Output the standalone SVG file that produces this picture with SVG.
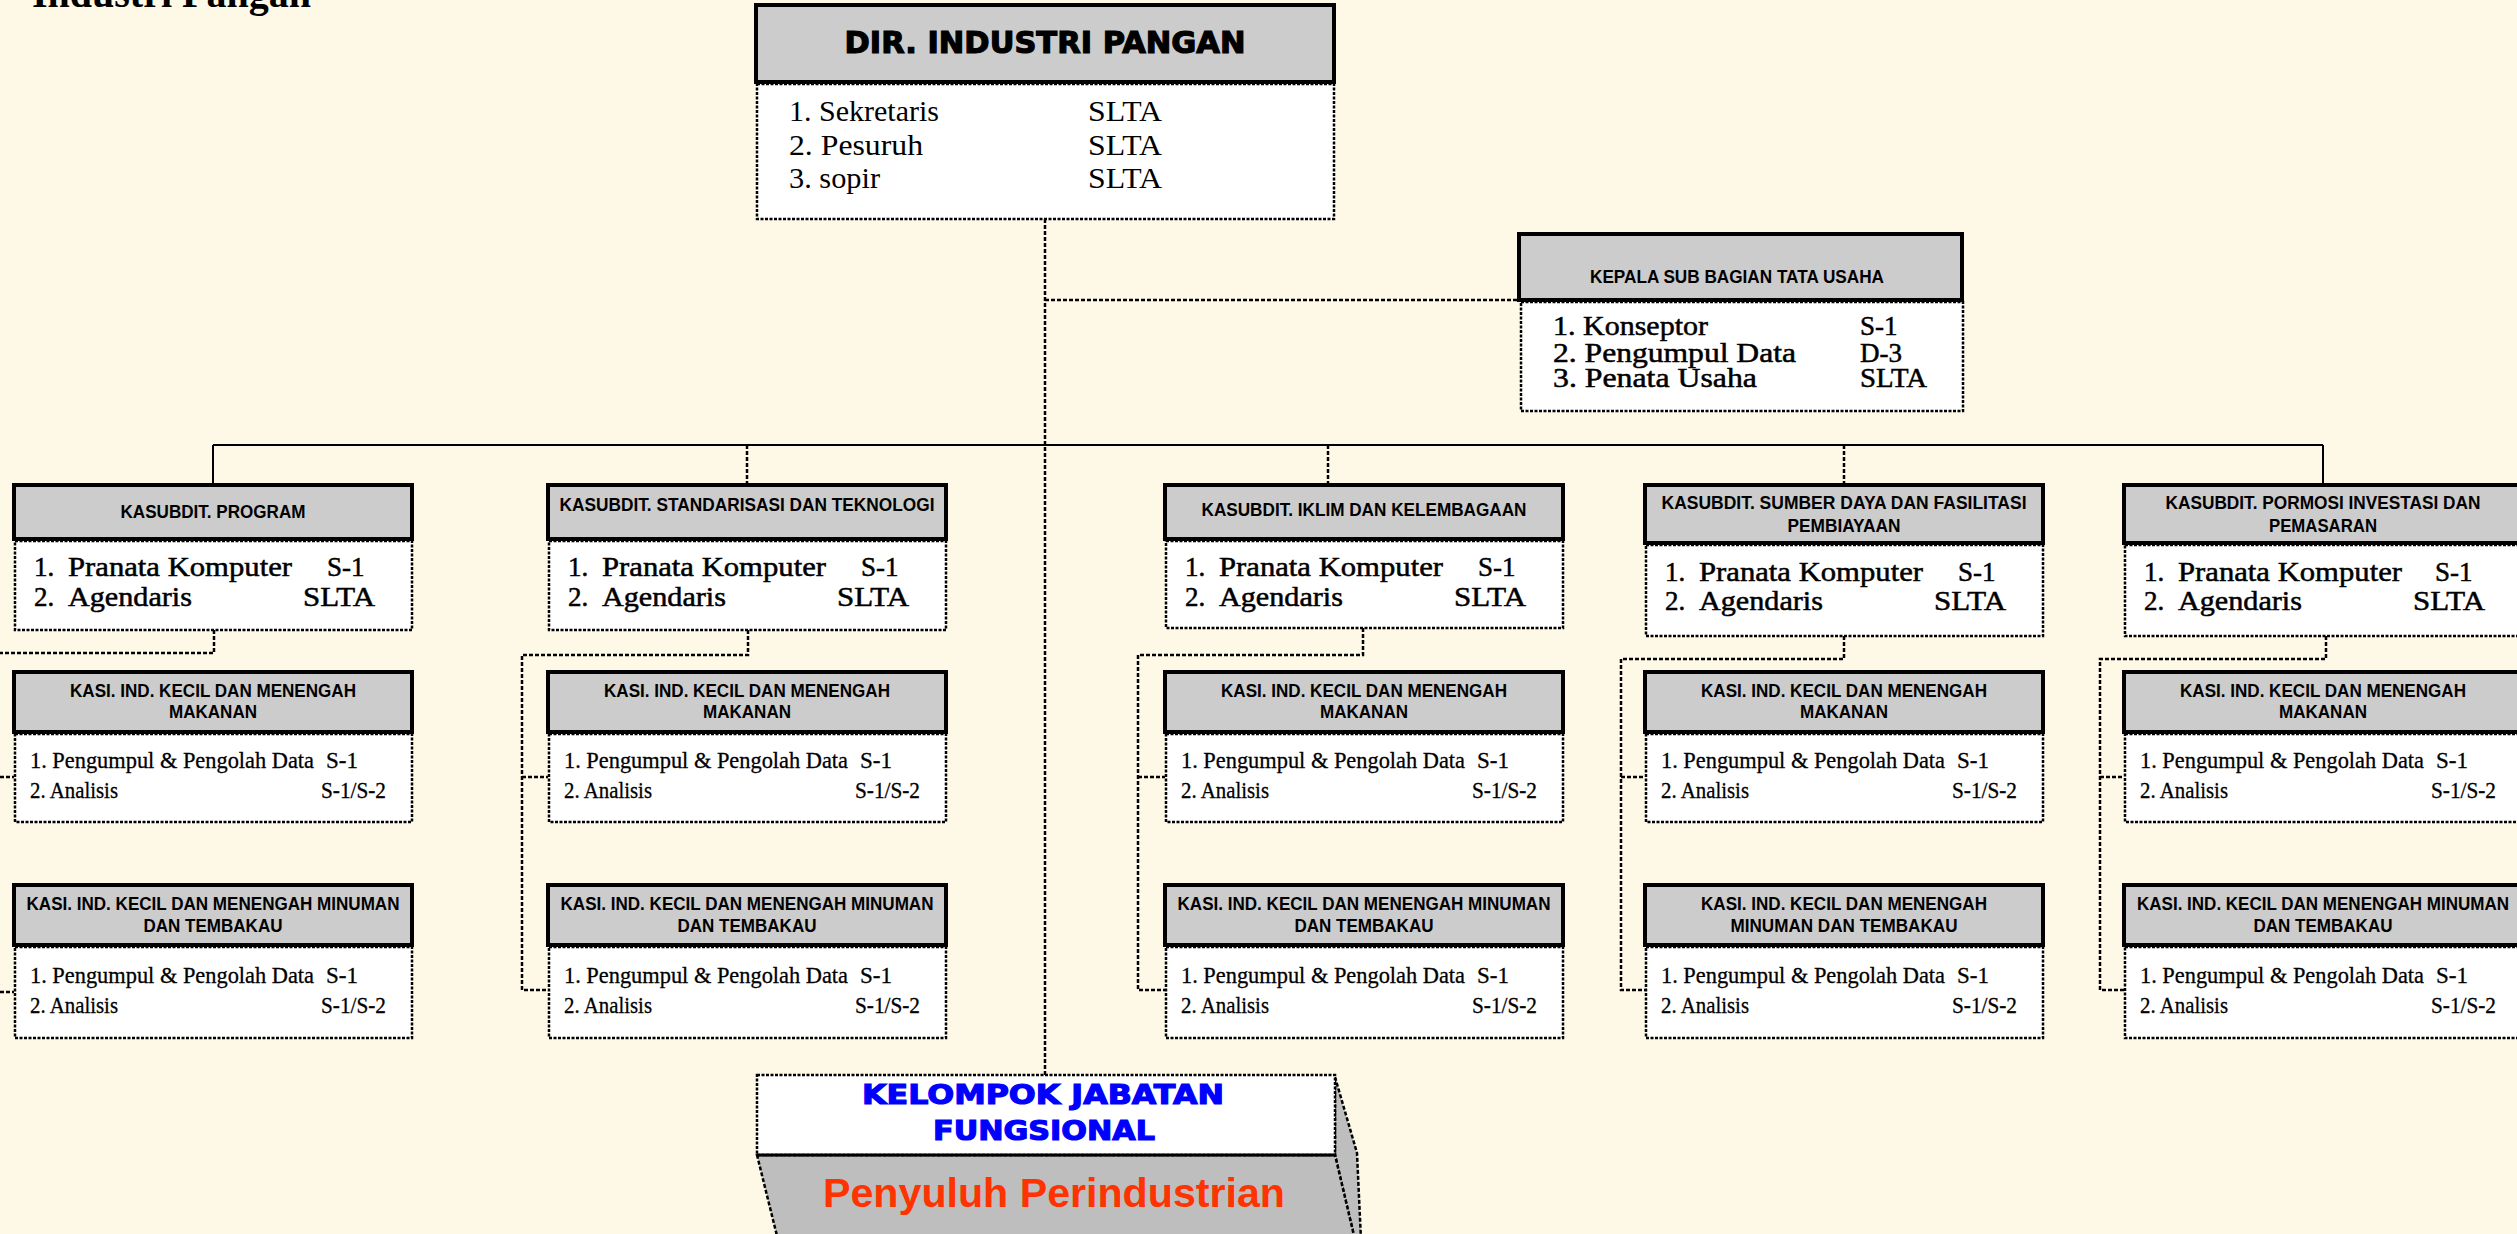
<svg xmlns="http://www.w3.org/2000/svg" width="2517" height="1234" viewBox="0 0 2517 1234">
  <style>
    .hdr { fill: #CCCCCC; stroke: #000; stroke-width: 4; }
    .body { fill: #FFFFFF; stroke: #000; stroke-width: 2.5; stroke-dasharray: 3 1.5; }
    .dot { fill: none; stroke: #000; stroke-width: 2.5; stroke-dasharray: 4 2; }
    .solid { fill: none; stroke: #000; stroke-width: 2; }
    .h { font-family: "Liberation Sans", Arial, sans-serif; font-weight: bold; font-size: 19px; text-anchor: middle; fill: #000; }
    .heavy { font-family: "DejaVu Sans", "Liberation Sans", sans-serif; font-weight: bold; text-anchor: middle; }
    .sv { font-family: "Liberation Serif", "Times New Roman", serif; fill: #000; }
    .semi { stroke: #000; stroke-width: 0.5; }
    .kb { font-size: 23px; stroke: #000; stroke-width: 0.3; }
    .sb { font-size: 27px; }
  </style>

  <!-- page background -->
  <rect x="0" y="0" width="2517" height="1234" fill="#FEF8E7"/>

  <!-- page title, partly above the top edge -->
  <text class="sv" x="32" y="7" font-size="40" font-weight="bold">Industri Pangan</text>

  <!-- connectors -->
  <g id="connectors">
    <!-- director down to functional group, branch to admin sub-section -->
    <path class="dot" d="M1045,219 V1075"/>
    <path class="dot" d="M1045,300 H1519"/>
    <!-- main bus to the five sub-directorates -->
    <path class="solid" d="M213,445 H2323"/>
    <path class="solid" d="M213,445 V485"/>
    <path class="dot" d="M747,445 V485"/>
    <path class="dot" d="M1328,445 V485"/>
    <path class="dot" d="M1844,445 V485"/>
    <path class="solid" d="M2323,445 V485"/>
    <!-- column 1 sections (spine runs off the left edge) -->
    <path class="dot" d="M214,630 V653 H-6 V992"/>
    <path class="dot" d="M-6,777 H14 M-6,992 H14"/>
    <!-- column 2 sections -->
    <path class="dot" d="M748,630 V655 H522 V990 H548"/>
    <path class="dot" d="M522,777 H548"/>
    <!-- column 3 sections -->
    <path class="dot" d="M1363,628 V655 H1138 V990 H1165"/>
    <path class="dot" d="M1138,777 H1165"/>
    <!-- column 4 sections -->
    <path class="dot" d="M1844,636 V659 H1621 V990 H1645"/>
    <path class="dot" d="M1621,777 H1645"/>
    <!-- column 5 sections -->
    <path class="dot" d="M2326,636 V659 H2100 V990 H2124"/>
    <path class="dot" d="M2100,777 H2124"/>
  </g>

  <!-- director -->
  <g id="dir-industri-pangan">
    <rect class="hdr" x="756" y="5" width="578" height="77"/>
    <rect class="body" x="757" y="84" width="577" height="135"/>
    <text class="heavy" x="1045" y="53" font-size="30" textLength="401" lengthAdjust="spacingAndGlyphs" stroke="#000" stroke-width="1.2">DIR. INDUSTRI PANGAN</text>
    <text class="sv" font-size="30" x="789" y="121" textLength="150" lengthAdjust="spacingAndGlyphs">1. Sekretaris</text>
    <text class="sv" font-size="30" x="789" y="155" textLength="134" lengthAdjust="spacingAndGlyphs">2. Pesuruh</text>
    <text class="sv" font-size="30" x="789" y="188" textLength="91" lengthAdjust="spacingAndGlyphs">3. sopir</text>
    <text class="sv" font-size="30" x="1088" y="121" textLength="74" lengthAdjust="spacingAndGlyphs">SLTA</text>
    <text class="sv" font-size="30" x="1088" y="155" textLength="74" lengthAdjust="spacingAndGlyphs">SLTA</text>
    <text class="sv" font-size="30" x="1088" y="188" textLength="74" lengthAdjust="spacingAndGlyphs">SLTA</text>
  </g>

  <!-- administration sub-section -->
  <g id="kepala-sub-bagian-tata-usaha">
    <rect class="hdr" x="1519" y="234" width="443" height="66"/>
    <rect class="body" x="1521" y="302" width="442" height="109"/>
    <text class="h" x="1737" y="283" textLength="294" lengthAdjust="spacingAndGlyphs">KEPALA SUB BAGIAN TATA USAHA</text>
    <text class="sv semi" font-size="27" x="1553" y="335" textLength="155" lengthAdjust="spacingAndGlyphs">1. Konseptor</text>
    <text class="sv semi" font-size="27" x="1553" y="362" textLength="243" lengthAdjust="spacingAndGlyphs">2. Pengumpul Data</text>
    <text class="sv semi" font-size="27" x="1553" y="387" textLength="204" lengthAdjust="spacingAndGlyphs">3. Penata Usaha</text>
    <text class="sv semi" font-size="27" x="1860" y="335">S-1</text>
    <text class="sv semi" font-size="27" x="1860" y="362">D-3</text>
    <text class="sv semi" font-size="27" x="1860" y="387" textLength="67" lengthAdjust="spacingAndGlyphs">SLTA</text>
  </g>

  <!-- sub-directorates -->
  <g id="kasubdit-program" transform="translate(14,0)">
    <rect class="hdr" x="0" y="485" width="398" height="54"/>
    <rect class="body" x="1" y="541" width="397" height="89"/>
    <text class="h" x="199" y="518" textLength="185" lengthAdjust="spacingAndGlyphs">KASUBDIT. PROGRAM</text>
    <text class="sv sb semi" x="20" y="576">1.</text>
    <text class="sv sb semi" x="54" y="576" textLength="224" lengthAdjust="spacingAndGlyphs">Pranata Komputer</text>
    <text class="sv sb semi" x="313" y="576">S-1</text>
    <text class="sv sb semi" x="20" y="606">2.</text>
    <text class="sv sb semi" x="54" y="606" textLength="124" lengthAdjust="spacingAndGlyphs">Agendaris</text>
    <text class="sv sb semi" x="289" y="606" textLength="72" lengthAdjust="spacingAndGlyphs">SLTA</text>
  </g>

  <g id="kasubdit-standarisasi" transform="translate(548,0)">
    <rect class="hdr" x="0" y="485" width="398" height="54"/>
    <rect class="body" x="1" y="541" width="397" height="89"/>
    <text class="h" x="199" y="511" textLength="375" lengthAdjust="spacingAndGlyphs">KASUBDIT. STANDARISASI DAN TEKNOLOGI</text>
    <text class="sv sb semi" x="20" y="576">1.</text>
    <text class="sv sb semi" x="54" y="576" textLength="224" lengthAdjust="spacingAndGlyphs">Pranata Komputer</text>
    <text class="sv sb semi" x="313" y="576">S-1</text>
    <text class="sv sb semi" x="20" y="606">2.</text>
    <text class="sv sb semi" x="54" y="606" textLength="124" lengthAdjust="spacingAndGlyphs">Agendaris</text>
    <text class="sv sb semi" x="289" y="606" textLength="72" lengthAdjust="spacingAndGlyphs">SLTA</text>
  </g>

  <g id="kasubdit-iklim" transform="translate(1165,0)">
    <rect class="hdr" x="0" y="485" width="398" height="54"/>
    <rect class="body" x="1" y="541" width="397" height="87"/>
    <text class="h" x="199" y="516" textLength="325" lengthAdjust="spacingAndGlyphs">KASUBDIT. IKLIM DAN KELEMBAGAAN</text>
    <text class="sv sb semi" x="20" y="576">1.</text>
    <text class="sv sb semi" x="54" y="576" textLength="224" lengthAdjust="spacingAndGlyphs">Pranata Komputer</text>
    <text class="sv sb semi" x="313" y="576">S-1</text>
    <text class="sv sb semi" x="20" y="606">2.</text>
    <text class="sv sb semi" x="54" y="606" textLength="124" lengthAdjust="spacingAndGlyphs">Agendaris</text>
    <text class="sv sb semi" x="289" y="606" textLength="72" lengthAdjust="spacingAndGlyphs">SLTA</text>
  </g>

  <g id="kasubdit-sumber-daya" transform="translate(1645,0)">
    <rect class="hdr" x="0" y="485" width="398" height="58"/>
    <rect class="body" x="1" y="545" width="397" height="91"/>
    <text class="h" x="199" y="509" textLength="365" lengthAdjust="spacingAndGlyphs">KASUBDIT. SUMBER DAYA DAN FASILITASI</text>
    <text class="h" x="199" y="532" textLength="113" lengthAdjust="spacingAndGlyphs">PEMBIAYAAN</text>
    <text class="sv sb semi" x="20" y="581">1.</text>
    <text class="sv sb semi" x="54" y="581" textLength="224" lengthAdjust="spacingAndGlyphs">Pranata Komputer</text>
    <text class="sv sb semi" x="313" y="581">S-1</text>
    <text class="sv sb semi" x="20" y="610">2.</text>
    <text class="sv sb semi" x="54" y="610" textLength="124" lengthAdjust="spacingAndGlyphs">Agendaris</text>
    <text class="sv sb semi" x="289" y="610" textLength="72" lengthAdjust="spacingAndGlyphs">SLTA</text>
  </g>

  <g id="kasubdit-promosi" transform="translate(2124,0)">
    <rect class="hdr" x="0" y="485" width="400" height="58"/>
    <rect class="body" x="1" y="545" width="399" height="91"/>
    <text class="h" x="199" y="509" textLength="315" lengthAdjust="spacingAndGlyphs">KASUBDIT. PORMOSI INVESTASI DAN</text>
    <text class="h" x="199" y="532" textLength="108" lengthAdjust="spacingAndGlyphs">PEMASARAN</text>
    <text class="sv sb semi" x="20" y="581">1.</text>
    <text class="sv sb semi" x="54" y="581" textLength="224" lengthAdjust="spacingAndGlyphs">Pranata Komputer</text>
    <text class="sv sb semi" x="311" y="581">S-1</text>
    <text class="sv sb semi" x="20" y="610">2.</text>
    <text class="sv sb semi" x="54" y="610" textLength="124" lengthAdjust="spacingAndGlyphs">Agendaris</text>
    <text class="sv sb semi" x="289" y="610" textLength="72" lengthAdjust="spacingAndGlyphs">SLTA</text>
  </g>

  <!-- sections: food -->
  <g id="kasi-makanan-1" transform="translate(14,0)">
    <rect class="hdr" x="0" y="672" width="398" height="60"/>
    <rect class="body" x="1" y="734" width="397" height="88"/>
    <text class="h" x="199" y="697" textLength="286" lengthAdjust="spacingAndGlyphs">KASI. IND. KECIL DAN MENENGAH</text>
    <text class="h" x="199" y="718" textLength="88" lengthAdjust="spacingAndGlyphs">MAKANAN</text>
    <text class="sv kb" x="16" y="768" textLength="284" lengthAdjust="spacingAndGlyphs">1. Pengumpul &amp; Pengolah Data</text>
    <text class="sv kb" x="312" y="768" textLength="32" lengthAdjust="spacingAndGlyphs">S-1</text>
    <text class="sv kb" x="16" y="798" textLength="88" lengthAdjust="spacingAndGlyphs">2. Analisis</text>
    <text class="sv kb" x="307" y="798" textLength="65" lengthAdjust="spacingAndGlyphs">S-1/S-2</text>
  </g>
  <g id="kasi-makanan-2" transform="translate(548,0)">
    <rect class="hdr" x="0" y="672" width="398" height="60"/>
    <rect class="body" x="1" y="734" width="397" height="88"/>
    <text class="h" x="199" y="697" textLength="286" lengthAdjust="spacingAndGlyphs">KASI. IND. KECIL DAN MENENGAH</text>
    <text class="h" x="199" y="718" textLength="88" lengthAdjust="spacingAndGlyphs">MAKANAN</text>
    <text class="sv kb" x="16" y="768" textLength="284" lengthAdjust="spacingAndGlyphs">1. Pengumpul &amp; Pengolah Data</text>
    <text class="sv kb" x="312" y="768" textLength="32" lengthAdjust="spacingAndGlyphs">S-1</text>
    <text class="sv kb" x="16" y="798" textLength="88" lengthAdjust="spacingAndGlyphs">2. Analisis</text>
    <text class="sv kb" x="307" y="798" textLength="65" lengthAdjust="spacingAndGlyphs">S-1/S-2</text>
  </g>
  <g id="kasi-makanan-3" transform="translate(1165,0)">
    <rect class="hdr" x="0" y="672" width="398" height="60"/>
    <rect class="body" x="1" y="734" width="397" height="88"/>
    <text class="h" x="199" y="697" textLength="286" lengthAdjust="spacingAndGlyphs">KASI. IND. KECIL DAN MENENGAH</text>
    <text class="h" x="199" y="718" textLength="88" lengthAdjust="spacingAndGlyphs">MAKANAN</text>
    <text class="sv kb" x="16" y="768" textLength="284" lengthAdjust="spacingAndGlyphs">1. Pengumpul &amp; Pengolah Data</text>
    <text class="sv kb" x="312" y="768" textLength="32" lengthAdjust="spacingAndGlyphs">S-1</text>
    <text class="sv kb" x="16" y="798" textLength="88" lengthAdjust="spacingAndGlyphs">2. Analisis</text>
    <text class="sv kb" x="307" y="798" textLength="65" lengthAdjust="spacingAndGlyphs">S-1/S-2</text>
  </g>
  <g id="kasi-makanan-4" transform="translate(1645,0)">
    <rect class="hdr" x="0" y="672" width="398" height="60"/>
    <rect class="body" x="1" y="734" width="397" height="88"/>
    <text class="h" x="199" y="697" textLength="286" lengthAdjust="spacingAndGlyphs">KASI. IND. KECIL DAN MENENGAH</text>
    <text class="h" x="199" y="718" textLength="88" lengthAdjust="spacingAndGlyphs">MAKANAN</text>
    <text class="sv kb" x="16" y="768" textLength="284" lengthAdjust="spacingAndGlyphs">1. Pengumpul &amp; Pengolah Data</text>
    <text class="sv kb" x="312" y="768" textLength="32" lengthAdjust="spacingAndGlyphs">S-1</text>
    <text class="sv kb" x="16" y="798" textLength="88" lengthAdjust="spacingAndGlyphs">2. Analisis</text>
    <text class="sv kb" x="307" y="798" textLength="65" lengthAdjust="spacingAndGlyphs">S-1/S-2</text>
  </g>
  <g id="kasi-makanan-5" transform="translate(2124,0)">
    <rect class="hdr" x="0" y="672" width="400" height="60"/>
    <rect class="body" x="1" y="734" width="399" height="88"/>
    <text class="h" x="199" y="697" textLength="286" lengthAdjust="spacingAndGlyphs">KASI. IND. KECIL DAN MENENGAH</text>
    <text class="h" x="199" y="718" textLength="88" lengthAdjust="spacingAndGlyphs">MAKANAN</text>
    <text class="sv kb" x="16" y="768" textLength="284" lengthAdjust="spacingAndGlyphs">1. Pengumpul &amp; Pengolah Data</text>
    <text class="sv kb" x="312" y="768" textLength="32" lengthAdjust="spacingAndGlyphs">S-1</text>
    <text class="sv kb" x="16" y="798" textLength="88" lengthAdjust="spacingAndGlyphs">2. Analisis</text>
    <text class="sv kb" x="307" y="798" textLength="65" lengthAdjust="spacingAndGlyphs">S-1/S-2</text>
  </g>

  <!-- sections: beverages and tobacco -->
  <g id="kasi-minuman-1" transform="translate(14,0)">
    <rect class="hdr" x="0" y="885" width="398" height="60"/>
    <rect class="body" x="1" y="947" width="397" height="91"/>
    <text class="h" x="199" y="910" textLength="373" lengthAdjust="spacingAndGlyphs">KASI. IND. KECIL DAN MENENGAH MINUMAN</text>
    <text class="h" x="199" y="932" textLength="139" lengthAdjust="spacingAndGlyphs">DAN TEMBAKAU</text>
    <text class="sv kb" x="16" y="983" textLength="284" lengthAdjust="spacingAndGlyphs">1. Pengumpul &amp; Pengolah Data</text>
    <text class="sv kb" x="312" y="983" textLength="32" lengthAdjust="spacingAndGlyphs">S-1</text>
    <text class="sv kb" x="16" y="1013" textLength="88" lengthAdjust="spacingAndGlyphs">2. Analisis</text>
    <text class="sv kb" x="307" y="1013" textLength="65" lengthAdjust="spacingAndGlyphs">S-1/S-2</text>
  </g>
  <g id="kasi-minuman-2" transform="translate(548,0)">
    <rect class="hdr" x="0" y="885" width="398" height="60"/>
    <rect class="body" x="1" y="947" width="397" height="91"/>
    <text class="h" x="199" y="910" textLength="373" lengthAdjust="spacingAndGlyphs">KASI. IND. KECIL DAN MENENGAH MINUMAN</text>
    <text class="h" x="199" y="932" textLength="139" lengthAdjust="spacingAndGlyphs">DAN TEMBAKAU</text>
    <text class="sv kb" x="16" y="983" textLength="284" lengthAdjust="spacingAndGlyphs">1. Pengumpul &amp; Pengolah Data</text>
    <text class="sv kb" x="312" y="983" textLength="32" lengthAdjust="spacingAndGlyphs">S-1</text>
    <text class="sv kb" x="16" y="1013" textLength="88" lengthAdjust="spacingAndGlyphs">2. Analisis</text>
    <text class="sv kb" x="307" y="1013" textLength="65" lengthAdjust="spacingAndGlyphs">S-1/S-2</text>
  </g>
  <g id="kasi-minuman-3" transform="translate(1165,0)">
    <rect class="hdr" x="0" y="885" width="398" height="60"/>
    <rect class="body" x="1" y="947" width="397" height="91"/>
    <text class="h" x="199" y="910" textLength="373" lengthAdjust="spacingAndGlyphs">KASI. IND. KECIL DAN MENENGAH MINUMAN</text>
    <text class="h" x="199" y="932" textLength="139" lengthAdjust="spacingAndGlyphs">DAN TEMBAKAU</text>
    <text class="sv kb" x="16" y="983" textLength="284" lengthAdjust="spacingAndGlyphs">1. Pengumpul &amp; Pengolah Data</text>
    <text class="sv kb" x="312" y="983" textLength="32" lengthAdjust="spacingAndGlyphs">S-1</text>
    <text class="sv kb" x="16" y="1013" textLength="88" lengthAdjust="spacingAndGlyphs">2. Analisis</text>
    <text class="sv kb" x="307" y="1013" textLength="65" lengthAdjust="spacingAndGlyphs">S-1/S-2</text>
  </g>
  <g id="kasi-minuman-4" transform="translate(1645,0)">
    <rect class="hdr" x="0" y="885" width="398" height="60"/>
    <rect class="body" x="1" y="947" width="397" height="91"/>
    <text class="h" x="199" y="910" textLength="286" lengthAdjust="spacingAndGlyphs">KASI. IND. KECIL DAN MENENGAH</text>
    <text class="h" x="199" y="932" textLength="227" lengthAdjust="spacingAndGlyphs">MINUMAN DAN TEMBAKAU</text>
    <text class="sv kb" x="16" y="983" textLength="284" lengthAdjust="spacingAndGlyphs">1. Pengumpul &amp; Pengolah Data</text>
    <text class="sv kb" x="312" y="983" textLength="32" lengthAdjust="spacingAndGlyphs">S-1</text>
    <text class="sv kb" x="16" y="1013" textLength="88" lengthAdjust="spacingAndGlyphs">2. Analisis</text>
    <text class="sv kb" x="307" y="1013" textLength="65" lengthAdjust="spacingAndGlyphs">S-1/S-2</text>
  </g>
  <g id="kasi-minuman-5" transform="translate(2124,0)">
    <rect class="hdr" x="0" y="885" width="400" height="60"/>
    <rect class="body" x="1" y="947" width="399" height="91"/>
    <text class="h" x="199" y="910" font-size="17" textLength="372" lengthAdjust="spacingAndGlyphs">KASI. IND. KECIL DAN MENENGAH MINUMAN</text>
    <text class="h" x="199" y="932" textLength="139" lengthAdjust="spacingAndGlyphs">DAN TEMBAKAU</text>
    <text class="sv kb" x="16" y="983" textLength="284" lengthAdjust="spacingAndGlyphs">1. Pengumpul &amp; Pengolah Data</text>
    <text class="sv kb" x="312" y="983" textLength="32" lengthAdjust="spacingAndGlyphs">S-1</text>
    <text class="sv kb" x="16" y="1013" textLength="88" lengthAdjust="spacingAndGlyphs">2. Analisis</text>
    <text class="sv kb" x="307" y="1013" textLength="65" lengthAdjust="spacingAndGlyphs">S-1/S-2</text>
  </g>

  <!-- functional group: 3-D block -->
  <g id="kelompok-jabatan-fungsional">
    <polygon points="1335,1077 1357,1153 1361,1240 1355,1240 1335,1155" fill="#BEBEBE" stroke="#000" stroke-width="2.5" stroke-dasharray="4 2"/>
    <polygon points="757,1155 1335,1155 1355,1240 778,1240" fill="#BEBEBE" stroke="#000" stroke-width="2.5" stroke-dasharray="4 2"/>
    <rect x="757" y="1075" width="578" height="80" fill="#FFFFFF" stroke="#000" stroke-width="2.5" stroke-dasharray="3 1.5"/>
    <line x1="757" y1="1155" x2="1335" y2="1155" stroke="#000" stroke-width="3"/>
    <text class="heavy" x="1043" y="1104" font-size="27" fill="#0000FF" stroke="#0000FF" stroke-width="1.2" textLength="362" lengthAdjust="spacingAndGlyphs">KELOMPOK JABATAN</text>
    <text class="heavy" x="1044" y="1140" font-size="27" fill="#0000FF" stroke="#0000FF" stroke-width="1.2" textLength="222" lengthAdjust="spacingAndGlyphs">FUNGSIONAL</text>
    <text x="1054" y="1207" font-family="'Liberation Sans', Arial, sans-serif" font-weight="bold" font-size="41" fill="#FF3300" text-anchor="middle" textLength="462" lengthAdjust="spacingAndGlyphs">Penyuluh Perindustrian</text>
  </g>
</svg>
